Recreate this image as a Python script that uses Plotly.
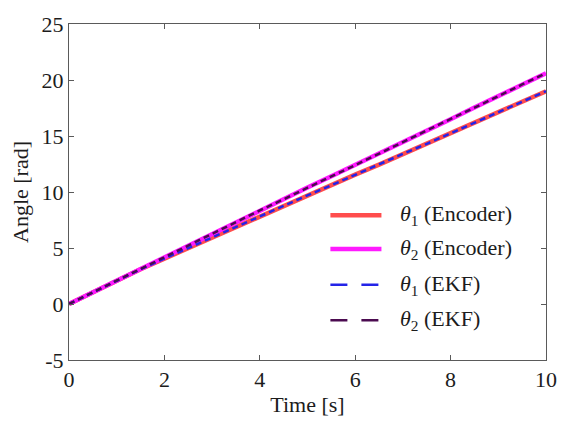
import plotly.graph_objects as go

# Time samples [s]
time_s = [0.0, 0.5, 1.0, 1.5, 2.0, 2.5, 3.0, 3.5, 4.0, 4.5, 5.0,
          5.5, 6.0, 6.5, 7.0, 7.5, 8.0, 8.5, 9.0, 9.5, 10.0]

# Joint angles measured by the encoders [rad]
theta1_encoder = [0.0, 1.05, 2.1, 3.1, 4.05, 5.0, 5.95, 6.9, 7.8, 8.75, 9.7,
                  10.6, 11.55, 12.45, 13.4, 14.3, 15.25, 16.2, 17.1, 18.05, 19.0]
theta2_encoder = [0.0, 1.05, 2.1, 3.15, 4.2, 5.25, 6.3, 7.3, 8.35, 9.35, 10.4,
                  11.4, 12.4, 13.4, 14.45, 15.5, 16.5, 17.55, 18.55, 19.6, 20.6]

# Joint angles estimated by the EKF [rad]
theta1_ekf = [0.0, 1.05, 2.1, 3.1, 4.05, 5.0, 5.95, 6.9, 7.8, 8.75, 9.7,
              10.6, 11.55, 12.45, 13.4, 14.3, 15.25, 16.2, 17.1, 18.05, 19.0]
theta2_ekf = [0.0, 1.05, 2.1, 3.15, 4.2, 5.25, 6.3, 7.3, 8.35, 9.35, 10.4,
              11.4, 12.4, 13.4, 14.45, 15.5, 16.5, 17.55, 18.55, 19.6, 20.6]

# Axis ticks
x_ticks = [0, 2, 4, 6, 8, 10]
x_tick_labels = ["0", "2", "4", "6", "8", "10"]
y_ticks = [-5, 0, 5, 10, 15, 20, 25]
y_tick_labels = ["-5", "0", "5", "10", "15", "20", "25"]

series = [
    ("<i>θ</i><sub>1</sub> (Encoder)", theta1_encoder, "#FF4D4D", 4.5, "solid"),
    ("<i>θ</i><sub>2</sub> (Encoder)", theta2_encoder, "#FF1AFF", 4.5, "solid"),
    ("<i>θ</i><sub>1</sub> (EKF)", theta1_ekf, "#2424E8", 2.5, "6px,4px"),
    ("<i>θ</i><sub>2</sub> (EKF)", theta2_ekf, "#4B0B50", 2.5, "6px,4px"),
]

FONT = "Liberation Serif, Times New Roman, serif"
FSIZE = 22
TEXT = "#1c1c1c"
AXIS = "#5a5a5a"

fig = go.Figure()
for name, vals, color, width, dash in series:
    fig.add_trace(go.Scatter(
        x=time_s, y=vals, mode="lines", name=name, showlegend=False,
        line=dict(color=color, width=width, dash=dash),
    ))

# Legend drawn without a frame, longer sample lines
legend_rows_y = [0.431, 0.330, 0.224, 0.118]
legend_dash = {"solid": "solid", "6px,4px": "17px,14px"}
for (name, _, color, width, dash), yy in zip(series, legend_rows_y):
    fig.add_shape(type="line", xref="paper", yref="paper",
                  x0=0.548, x1=0.655, y0=yy, y1=yy,
                  line=dict(color=color, width=width, dash=legend_dash[dash]))
    fig.add_annotation(xref="paper", yref="paper", x=0.690, y=yy,
                       xanchor="left", yanchor="middle", showarrow=False,
                       text=name, font=dict(family=FONT, size=FSIZE, color=TEXT))

axis_common = dict(
    showline=True, linecolor=AXIS, linewidth=1, mirror="ticks",
    ticks="inside", ticklen=5, tickcolor=AXIS, tickwidth=1,
    showgrid=False, zeroline=False,
    tickfont=dict(family=FONT, size=FSIZE, color=TEXT),
)

fig.update_layout(
    width=569, height=425,
    margin=dict(l=69, r=20, t=16, b=62),
    paper_bgcolor="white", plot_bgcolor="white",
    font=dict(family=FONT, size=FSIZE, color=TEXT),
    xaxis=dict(range=[0, 10], tickvals=x_ticks, ticktext=x_tick_labels,
               title=dict(text="Time [s]", standoff=5,
                          font=dict(family=FONT, size=FSIZE, color=TEXT)),
               **axis_common),
    yaxis=dict(range=[-5, 25], tickvals=y_ticks, ticktext=y_tick_labels,
               title=dict(text="Angle [rad]", standoff=6,
                          font=dict(family=FONT, size=FSIZE, color=TEXT)),
               **axis_common),
)

fig.write_html("out.html")
